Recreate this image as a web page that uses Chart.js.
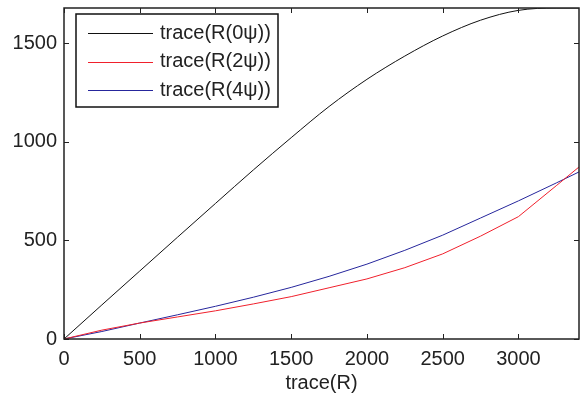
<!DOCTYPE html>
<html>
<head>
<meta charset="utf-8">
<script src="https://cdn.jsdelivr.net/npm/chart.js@4/dist/chart.umd.min.js"></script>
<style>
  html, body { margin: 0; padding: 0; background: #fff; }
</style>
</head>
<body>
<canvas id="traceChart" width="581" height="397"></canvas>
<script>
// x values: trace(R)
const traceR = [0, 250, 500, 750, 1000, 1250, 1500, 1750, 2000, 2250, 2500, 2750, 3000, 3250, 3400];
// series
const trace0psi = [0, 173, 345, 517, 688, 858, 1022, 1180, 1318, 1436, 1538, 1618, 1668, 1680, 1680];
const trace2psi = [0, 45, 81, 112, 143, 178, 215, 260, 305, 362, 432, 522, 621, 778, 873];
const trace4psi = [0, 38, 81, 123, 166, 212, 262, 318, 380, 450, 527, 614, 701, 792, 848];

const seriesLabels = ['trace(R(0\u03c8))', 'trace(R(2\u03c8))', 'trace(R(4\u03c8))'];
const seriesColors = ['#111111', '#f0202c', '#26269c'];
const xTickValues = [0, 500, 1000, 1500, 2000, 2500, 3000];
const yTickValues = [0, 500, 1000, 1500];
const xTitle = 'trace(R)';

const FONT = '"Liberation Sans", Arial, Helvetica, sans-serif';

function toPoints(ys) {
    return traceR.map((x, i) => ({ x: x, y: ys[i] }));
}

// matlab style: box all round, ticks pointing inside
const boxTicks = {
    id: 'boxTicks',
    afterDraw(chart) {
        const ctx = chart.ctx;
        const a = chart.chartArea;
        const xs = chart.scales.x;
        const ys = chart.scales.y;
        const len = 5;
        ctx.save();
        ctx.strokeStyle = '#222';
        ctx.lineWidth = 1;
        ctx.beginPath();
        xTickValues.forEach(v => {
            const px = Math.round(xs.getPixelForValue(v)) + 0.5;
            ctx.moveTo(px, a.bottom); ctx.lineTo(px, a.bottom - len);
            ctx.moveTo(px, a.top); ctx.lineTo(px, a.top + len);
        });
        yTickValues.forEach(v => {
            const py = Math.round(ys.getPixelForValue(v)) + 0.5;
            ctx.moveTo(a.left, py); ctx.lineTo(a.left + len, py);
            ctx.moveTo(a.right, py); ctx.lineTo(a.right - len, py);
        });
        ctx.stroke();
        ctx.lineWidth = 1.5;
        ctx.strokeRect(a.left, a.top, a.right - a.left, a.bottom - a.top);
        ctx.restore();
    }
};

// legend box in the upper left corner of the plot
const insideLegend = {
    id: 'insideLegend',
    afterDraw(chart) {
        const ctx = chart.ctx;
        const a = chart.chartArea;
        const left = a.left + 12, top = a.top + 6;
        const w = 202, h = 93;
        ctx.save();
        ctx.fillStyle = '#fff';
        ctx.fillRect(left, top, w, h);
        ctx.strokeStyle = '#111';
        ctx.lineWidth = 1.5;
        ctx.strokeRect(left, top, w, h);
        ctx.font = '20px ' + FONT;
        ctx.textBaseline = 'middle';
        ctx.textAlign = 'left';
        chart.data.datasets.forEach((ds, i) => {
            const y = top + 19 + i * 28.5;
            ctx.strokeStyle = ds.borderColor;
            ctx.lineWidth = 1;
            ctx.beginPath();
            ctx.moveTo(left + 12, Math.round(y) + 0.5);
            ctx.lineTo(left + 77, Math.round(y) + 0.5);
            ctx.stroke();
            ctx.fillStyle = '#222';
            ctx.fillText(ds.label, left + 84, y);
        });
        ctx.restore();
    }
};

new Chart(document.getElementById('traceChart'), {
    type: 'line',
    data: {
        datasets: [
            { label: seriesLabels[0], data: toPoints(trace0psi), borderColor: seriesColors[0], cubicInterpolationMode: 'monotone' },
            { label: seriesLabels[1], data: toPoints(trace2psi), borderColor: seriesColors[1] },
            { label: seriesLabels[2], data: toPoints(trace4psi), borderColor: seriesColors[2] }
        ]
    },
    options: {
        responsive: false,
        animation: false,
        layout: { padding: { top: 8, right: 2, left: 0, bottom: 0 } },
        elements: {
            point: { radius: 0 },
            line: { borderWidth: 1, tension: 0, fill: false }
        },
        plugins: {
            legend: { display: false },
            tooltip: { enabled: false }
        },
        scales: {
            x: {
                type: 'linear',
                min: 0,
                max: 3400,
                afterBuildTicks: s => { s.ticks = xTickValues.map(v => ({ value: v })); },
                afterFit: s => { s.height = 58; s.paddingLeft = 0; s.paddingRight = 0; },
                grid: { display: false, drawTicks: false },
                border: { display: false },
                ticks: { padding: 8, color: '#222', font: { family: FONT, size: 20 }, callback: v => String(v) },
                title: { display: true, text: xTitle, color: '#222', padding: { top: 0, bottom: 2 }, font: { family: FONT, size: 20 } }
            },
            y: {
                type: 'linear',
                min: 0,
                max: 1680,
                afterBuildTicks: s => { s.ticks = yTickValues.map(v => ({ value: v })); },
                afterFit: s => { s.width = 64; s.paddingTop = 0; s.paddingBottom = 0; },
                grid: { display: false, drawTicks: false },
                border: { display: false },
                ticks: { padding: 7, color: '#222', font: { family: FONT, size: 20 }, callback: v => String(v) }
            }
        }
    },
    plugins: [boxTicks, insideLegend]
});
</script>
</body>
</html>
